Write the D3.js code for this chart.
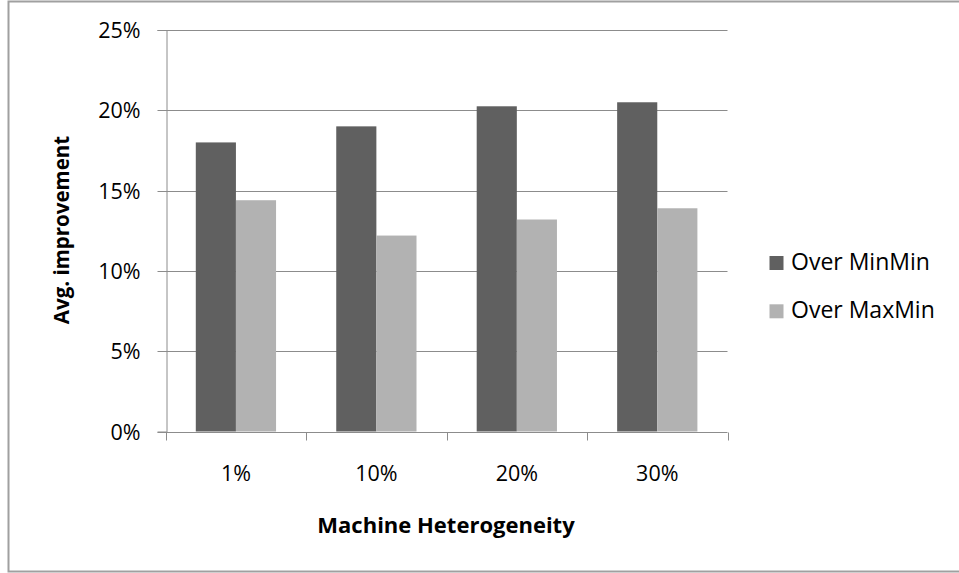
<!DOCTYPE html>
<html><head><meta charset="utf-8">
<script src="https://cdn.jsdelivr.net/npm/d3@7"></script>
<style>body{margin:0;background:#fff}svg{display:block}text{font-family:"Open Sans",sans-serif;fill:#000}</style>
</head><body><svg id="c" width="959" height="573"></svg>
<script>
const categories = ["1%","10%","20%","30%"];
const seriesNames = ["Over MinMin","Over MaxMin"];
const overMinMin = [18.0, 19.0, 20.25, 20.5];
const overMaxMin = [14.4, 12.2, 13.2, 13.9];
const yTicks = [0,5,10,15,20,25];
const colors = ["#606060","#b2b2b2"];

(function(){
const svg = d3.select("#c");
const FONT = "'Open Sans',sans-serif";
svg.append("rect").attr("x",8.5).attr("y",1.5).attr("width",960).attr("height",570)
  .attr("fill","#fff").attr("stroke","#a0a0a0").attr("stroke-width",2);

const pLeft=165.7, pRight=727.5, pTop=30, pBottom=431.5;
const x = d3.scaleBand().domain(categories).range([pLeft,pRight]).paddingInner(0).paddingOuter(0);
const y = d3.scaleLinear().domain([0,25]).range([pBottom,pTop]);
const x1 = d3.scaleBand().domain(seriesNames).range([0,x.bandwidth()]).paddingInner(0).paddingOuter(0.75);

// gridlines
svg.append("g").selectAll("line").data(yTicks.filter(d=>d>0)).join("line")
  .attr("x1",pLeft).attr("x2",pRight).attr("y1",d=>Math.round(y(d))+0.5).attr("y2",d=>Math.round(y(d))+0.5)
  .attr("stroke","#8c8c8c").attr("stroke-width",1);

const data = [overMinMin, overMaxMin];
const g = svg.append("g");
categories.forEach((c,i)=>{
  seriesNames.forEach((s,j)=>{
    g.append("rect").attr("x",x(c)+x1(s)).attr("width",x1.bandwidth())
     .attr("y",y(data[j][i])).attr("height",pBottom-y(data[j][i]))
     .attr("fill",colors[j]);
  });
});

// y axis
const ya = svg.append("g").attr("transform",`translate(${Math.round(pLeft)+0.5},0)`)
  .call(d3.axisLeft(y).tickValues(yTicks).tickFormat(d=>d+"%").tickSize(9).tickPadding(17));
ya.select(".domain").attr("stroke","#8c8c8c");
ya.selectAll(".tick line").attr("stroke","#8c8c8c");
ya.selectAll(".tick text").attr("font-size",21.5).attr("fill","#222").attr("font-family",FONT).attr("dy","0.36em");
ya.selectAll(".tick").attr("transform",d=>`translate(0,${Math.round(y(d))+0.5})`);

// x axis
const xa = svg.append("g").attr("transform",`translate(0,${Math.round(pBottom)+0.5})`)
  .call(d3.axisBottom(x).tickSize(0).tickPadding(0));
xa.select(".domain").attr("stroke","#8c8c8c").attr("d",`M${pLeft},0H${pRight}`);
xa.selectAll(".tick text").attr("font-size",21.5).attr("fill","#222").attr("font-family",FONT).attr("dy",null).attr("y",48.5);
const bounds = categories.map(c=>x(c)).concat([pRight]);
xa.append("g").selectAll("line").data(bounds).join("line")
  .attr("x1",d=>Math.round(d)+0.5).attr("x2",d=>Math.round(d)+0.5).attr("y1",0).attr("y2",8).attr("stroke","#8c8c8c");

// axis titles
svg.append("text").attr("x",446).attr("y",533).attr("text-anchor","middle")
  .attr("font-weight","bold").attr("font-size",22).text("Machine Heterogeneity");
svg.append("text").attr("transform","translate(68.5,230) rotate(-90)").attr("text-anchor","middle")
  .attr("font-weight","bold").attr("font-size",20.5).text("Avg. improvement");

// legend
const lg = svg.append("g");
seriesNames.forEach((s,j)=>{
  const base = 270 + j*48.3;
  lg.append("rect").attr("x",769.5).attr("y",base-14).attr("width",14).attr("height",14).attr("fill",colors[j]);
  lg.append("text").attr("x",791).attr("y",base).attr("font-size",23).attr("fill","#222").text(s);
});
})();
</script></body></html>
